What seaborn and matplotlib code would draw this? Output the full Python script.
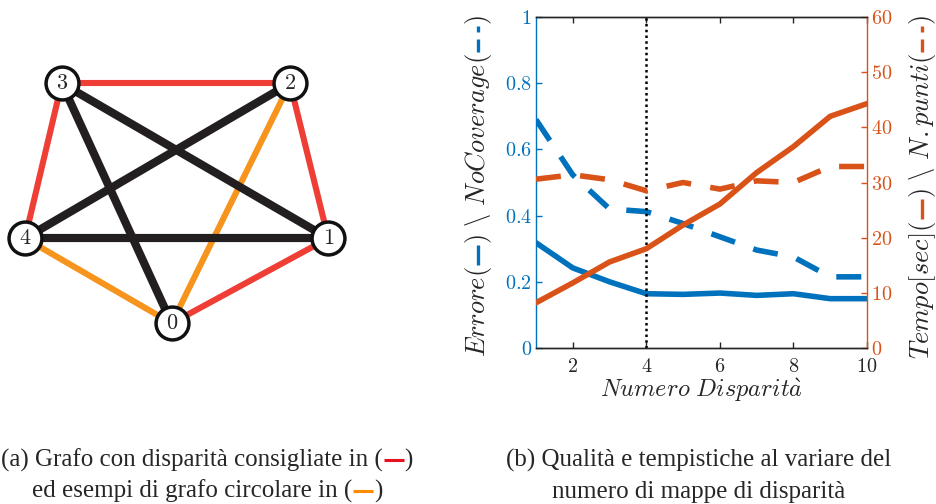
import matplotlib
matplotlib.use("Agg")
import matplotlib.pyplot as plt
from matplotlib.lines import Line2D
import numpy as np
import pandas as pd
import seaborn as sns

# ---------------- data ----------------
# panel (a): complete graph on 5 nodes
node_ids = [0, 1, 2, 3, 4]
node_x = [171.7, 328.3, 290.0, 61.7, 25.0]
node_y = [323.3, 238.3, 83.3, 83.3, 238.3]
edges_red = [(3, 2), (2, 1), (1, 0), (3, 4)]
edges_orange = [(4, 0), (2, 0)]
edges_black = [(3, 1), (3, 0), (4, 2), (4, 1)]

# panel (b)
n_disparita = [1, 2, 3, 4, 5, 6, 7, 8, 9, 10]
errore = [0.318, 0.242, 0.200, 0.164, 0.162, 0.166, 0.159, 0.164, 0.149, 0.149]
nocoverage = [0.690, 0.523, 0.420, 0.412, 0.376, 0.336, 0.296, 0.275, 0.215, 0.215]
tempo_sec = [8.2, 11.8, 15.6, 18.0, 22.3, 26.1, 31.8, 36.5, 42.0, 44.3]
n_punti = [30.6, 31.4, 30.5, 28.5, 30.0, 28.8, 30.3, 30.0, 32.9, 32.9]
x_ticks = [2, 4, 6, 8, 10]
left_ticks = [0, 0.2, 0.4, 0.6, 0.8, 1]
left_ticklabels = ["0", "0.2", "0.4", "0.6", "0.8", "1"]
right_ticks = [0, 10, 20, 30, 40, 50, 60]
selected_n = 4

BLUE = "#0072BD"
ORANGE = "#D95319"
RED_E = "#EF3E36"
ORANGE_E = "#F7941D"
BLACK_E = "#231F20"

W, H = 937, 504
sns.set_theme(style="white")
plt.rcParams["font.family"] = ["Liberation Serif", "DejaVu Serif"]
plt.rcParams["mathtext.fontset"] = "cm"

fig = plt.figure(figsize=(W / 100, H / 100), dpi=100)

# ---------------- panel (a) ----------------
axg = fig.add_axes([0, 0, 0.4, 1])

def draw_edges(edges, color, lw):
    for a, b in edges:
        axg.plot([node_x[a], node_x[b]], [node_y[a], node_y[b]],
                 color=color, lw=lw, solid_capstyle="butt", zorder=1)

draw_edges(edges_red, RED_E, 4.4)
draw_edges(edges_orange, ORANGE_E, 4.4)
draw_edges(edges_black, BLACK_E, 5.9)

nodes = pd.DataFrame({"x": node_x, "y": node_y, "id": node_ids})
sns.scatterplot(data=nodes, x="x", y="y", ax=axg, s=560, color="white",
                edgecolor="#111111", linewidth=2.5, zorder=3, legend=False)
axg.set_xlim(0, 0.4 * W)
axg.set_ylim(H, 0)
axg.axis("off")
for i, x, y in zip(node_ids, node_x, node_y):
    axg.text(x, y + 1, f"${i}$", ha="center", va="center", fontsize=16, zorder=4)

# ---------------- panel (b) ----------------
ax = fig.add_axes([536 / W, 1 - 348 / H, 331 / W, 331 / H])
df = pd.DataFrame({"n": n_disparita, "errore": errore, "nocov": nocoverage,
                   "tempo": tempo_sec, "punti": n_punti})
sns.lineplot(data=df, x="n", y="errore", ax=ax, color=BLUE, lw=4)
sns.lineplot(data=df, x="n", y="nocov", ax=ax, color=BLUE, lw=4)
ax.lines[1].set_dashes((4.5, 3.5))
ax.axvline(selected_n, color="black", lw=1.8, ls=(0, (1, 1.3)), zorder=5)
ax.set_xlim(1, 10)
ax.set_ylim(0, 1)
ax.set_xticks(x_ticks)
ax.set_xticklabels([f"${t}$" for t in x_ticks], fontsize=14.5)
ax.set_yticks(left_ticks)
ax.set_yticklabels([f"${t}$" for t in left_ticklabels], fontsize=14.5, color=BLUE)
ax.set_xlabel(r"$Numero\ Disparit\grave{a}$", fontsize=17.5, labelpad=0)
ax.set_ylabel("")

ax2 = ax.twinx()
sns.lineplot(data=df, x="n", y="tempo", ax=ax2, color=ORANGE, lw=4)
sns.lineplot(data=df, x="n", y="punti", ax=ax2, color=ORANGE, lw=4)
ax2.lines[1].set_dashes((4.5, 3.5))
ax2.set_ylim(0, 60)
ax2.set_yticks(right_ticks)
ax2.set_yticklabels([f"${t}$" for t in right_ticks], fontsize=14.5, color=ORANGE)
ax2.set_ylabel("")
ax2.set_xlim(1, 10)

for a in (ax, ax2):
    for s in a.spines.values():
        s.set_linewidth(1.0)
        s.set_color("#262626")
ax.spines["left"].set_color(BLUE)
ax.spines["right"].set_visible(False)
ax2.spines["right"].set_color(ORANGE)
ax2.spines["left"].set_visible(False)
ax.tick_params(axis="x", direction="in", length=4, width=1, top=True, bottom=True,
               pad=7, colors="#262626")
ax.tick_params(axis="y", direction="in", length=4, width=1, left=True, colors=BLUE, pad=3)
ax2.tick_params(axis="y", direction="in", length=4, width=1, right=True, colors=ORANGE, pad=3)

# ---------------- rich text helper ----------------
renderer = fig.canvas.get_renderer()

def measure(s, fs, family=None):
    kw = {"fontsize": fs}
    if family:
        kw["family"] = family
    t = fig.text(0, 0, s, **kw)
    w = t.get_window_extent(renderer).width
    t.remove()
    return w

def rich(pieces, cx, cy, fs, vertical=False, family=None, line_lw=2.2):
    """pieces: ('t', text) or ('l', length_px, color, dashes or None).
    cx, cy in pixel coords (y downward); for horizontal cy is baseline and cx the centre,
    for vertical cx is baseline and cy the centre."""
    lens = [measure(p[1], fs, family) if p[0] == "t" else p[1] for p in pieces]
    total = sum(lens)
    mid = 0.27 * fs * 100 / 72  # line height above baseline (px)
    if not vertical:
        pos = cx - total / 2
        by = H - cy
        for p, L in zip(pieces, lens):
            if p[0] == "t":
                kw = {"family": family} if family else {}
                fig.text(pos / W, by / H, p[1], fontsize=fs, ha="left", va="baseline", **kw)
            else:
                ln = Line2D([(pos + 1) / W, (pos + L - 1) / W], [(by + mid) / H] * 2,
                            transform=fig.transFigure, color=p[2], lw=line_lw,
                            solid_capstyle="butt", dash_capstyle="butt")
                if p[3]:
                    ln.set_dashes(p[3])
                fig.add_artist(ln)
            pos += L
    else:
        pos = (H - cy) - total / 2
        bx = cx
        for p, L in zip(pieces, lens):
            if p[0] == "t":
                kw = {"family": family} if family else {}
                fig.text(bx / W, pos / H, p[1], fontsize=fs, rotation=90,
                         rotation_mode="anchor", ha="left", va="baseline", **kw)
            else:
                ln = Line2D([(bx - mid) / W] * 2, [(pos + 1) / H, (pos + L - 1) / H],
                            transform=fig.transFigure, color=p[2], lw=line_lw,
                            solid_capstyle="butt", dash_capstyle="butt")
                if p[3]:
                    ln.set_dashes(p[3])
                fig.add_artist(ln)
            pos += L

# y labels
LBL_FS = 19
rich([("t", r"$Errore($"), ("l", 22, BLUE, None), ("t", r"$)\ \backslash\ NoCoverage($"),
      ("l", 28, BLUE, (3.9, 2.1)), ("t", r"$)$")],
     485, 186, LBL_FS, vertical=True, line_lw=2.4)
rich([("t", r"$Tempo[sec]($"), ("l", 22, ORANGE, None), ("t", r"$)\ \backslash\ N.punti($"),
      ("l", 28, ORANGE, (3.9, 2.1)), ("t", r"$)$")],
     929, 187, LBL_FS, vertical=True, line_lw=2.4)

# captions
CAP_FS = 18
CAP_FAM = "Liberation Serif"
rich([("t", "(a) Grafo con disparità consigliate in ("), ("l", 22, "#E8101E", None), ("t", ")")],
     207, 467, CAP_FS, family=CAP_FAM, line_lw=2.2)
rich([("t", "ed esempi di grafo circolare in ("), ("l", 22, "#FF8A00", None), ("t", ")")],
     207, 498, CAP_FS, family=CAP_FAM, line_lw=2.2)
rich([("t", "(b) Qualità e tempistiche al variare del")], 699, 467, CAP_FS, family=CAP_FAM)
rich([("t", "numero di mappe di disparità")], 699, 498, CAP_FS, family=CAP_FAM)

fig.savefig("out.png", dpi=100)
